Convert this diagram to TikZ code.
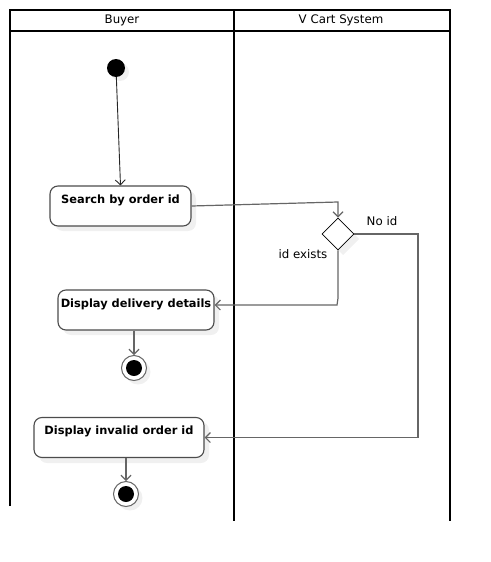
\documentclass[tikz,border=0pt]{standalone}
\usepackage{fontspec}
\setmainfont{DejaVu Sans}
\usetikzlibrary{arrows.meta,shapes.geometric}
\begin{document}
\begin{tikzpicture}[x=1pt,y=-1pt,
 lane/.style={line width=2pt,black},
 act/.style={draw=black!70, line width=1.1pt, fill=white, rounded corners=8pt, minimum width=#1, text height=13pt, text depth=19pt, inner ysep=4pt, inner xsep=0pt, font=\bfseries\fontsize{11.4}{13}\selectfont},
 shade/.style={fill=black!6, draw=none},
 flow/.style={draw=black!60, line width=1.2pt, -{Straight Barb[length=5pt,width=10pt]}},
 lbl/.style={font=\fontsize{11.8}{13}\selectfont, inner sep=0pt},
 endnode/.style={circle, draw=black!60, line width=1pt, fill=white, minimum size=25pt, inner sep=0pt},
]
\useasboundingbox (0,0) rectangle (490,562);
% swimlanes
\draw[lane] (10,506) -- (10,10) -- (450,10) -- (450,521);
\draw[lane] (10,31) -- (450,31);
\draw[lane] (234,10) -- (234,521);
\node[lbl] (hbuyer) at (122,20.5) {Buyer};
\node[lbl] (hsys) at (341,20.5) {V Cart System};
% shadows
\fill[shade] (120,72) circle (9);
\fill[shade, rounded corners=8pt] (55,191) rectangle (196,231);
\fill[shade] (343,223) -- (359,239) -- (343,255) -- (327,239) -- cycle;
\fill[shade, rounded corners=8pt] (63,295) rectangle (219,335);
\fill[shade] (138,372) circle (12.5);
\fill[shade, rounded corners=8pt] (39,422) rectangle (209,463);
\fill[shade] (130,498) circle (12.5);
% nodes
\node[circle, fill=black, minimum size=18pt, inner sep=0pt] (start) at (116,68) {};
\node[act=141pt] (search) at (120.5,206) {Search by order id};
\node[diamond, draw=black, line width=0.8pt, fill=white, minimum width=32pt, minimum height=32pt, inner sep=0pt] (dec) at (338,234) {};
\node[act=156pt] (deliv) at (136,310) {Display delivery details};
\node[endnode] (end1) at (134,368) {};
\fill (end1) circle (8);
\node[act=170pt] (inval) at (119,437.5) {Display invalid order id};
\node[endnode] (end2) at (126,494) {};
\fill (end2) circle (8);
% labels
\node[lbl] (lno) at (382,221) {No id};
\node[lbl] (lyes) at (303,254) {id exists};
% connectors
\draw[flow, draw=black!85, line width=0.9pt] (start) -- (search.north);
\draw[flow] (search.east) -- (338,202) -- (dec.north);
\draw[flow] (dec.south) -- (338,298) -- (337,305) -- (deliv.east |- 0,305);
\draw[flow] (dec.east) -- (418,234) -- (418,437.5) -- (inval.east);
\draw[flow] (end1 |- deliv.south) -- (end1.north);
\draw[flow] (end2 |- inval.south) -- (end2.north);
\end{tikzpicture}
\end{document}
